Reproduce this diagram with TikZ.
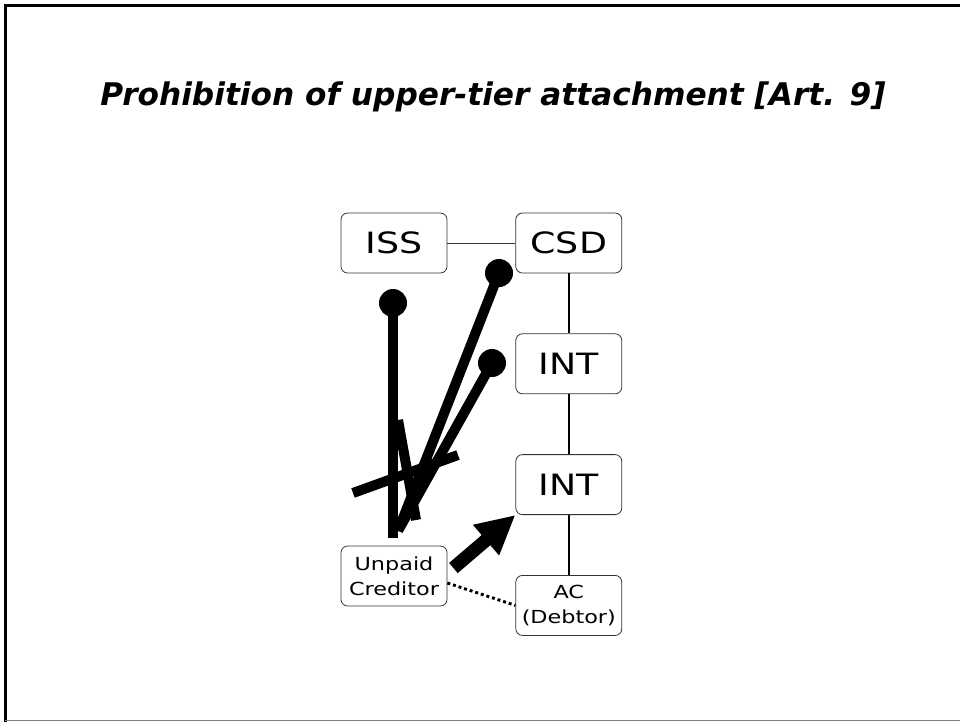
\documentclass[tikz,border=0pt]{standalone}
\usepackage{fontspec}
\setmainfont{DejaVu Sans}
\newfontfamily\boxfont[FakeStretch=1.24]{DejaVu Sans}
\usetikzlibrary{arrows.meta,positioning,calc}
\definecolor{rim}{gray}{0.5}
\definecolor{boxline}{gray}{0.2}

\tikzset{
  party/.style={draw=boxline,line width=0.6pt,rounded corners=5pt,minimum width=79.5pt,minimum height=45pt,font=\boxfont\fontsize{22}{26}\selectfont},
  smallparty/.style={party,align=center,font=\boxfont\fontsize{13.5}{18.75}\selectfont},
  claim/.style={line width=7.5pt},
}

\begin{document}
\begin{tikzpicture}[x=0.75pt,y=-0.75pt,node distance=45pt and 51pt]
\useasboundingbox (0,0) rectangle (960,722);
% slide frame
\draw[line width=2pt] (5.3,722) -- (5.3,5.3) -- (960,5.3);
\draw[draw=rim,line width=1pt] (5,720.5) -- (960,720.5);
\node[anchor=base,font=\fontsize{23.4}{28}\selectfont\bfseries\itshape] (title) at (493,105) {Prohibition of upper-tier attachment [Art. 9]};

% chain of intermediaries
\node[party] (iss) at (394,243) {ISS};
\node[party,right=of iss] (csd) {CSD};
\node[party,below=of csd] (int1) {INT};
\node[party,below=of int1] (int2) {INT};
\node[smallparty,below=of int2] (ac) {AC\\(Debtor)};
\node[smallparty] (uc) at (394,576) {Unpaid\\Creditor};

\draw[draw=boxline,line width=0.6pt] (iss) -- (csd);
\draw[line width=1.2pt] (csd) -- (int1) (int1) -- (int2) (int2) -- (ac);

% attachments at the upper tiers, crossed out
\coordinate (dotiss) at (393,303);
\coordinate (dotcsd) at (499,273);
\coordinate (dotint) at (492,363);
\draw[claim] (dotiss) -- (393,538);
\draw[claim] (dotcsd) -- (398,531);
\draw[claim] (dotint) -- (399,529);
\fill (dotiss) circle[radius=10.5pt];
\fill (dotcsd) circle[radius=10.5pt];
\fill (dotint) circle[radius=10.5pt];
\draw[claim] (398,420) -- (416,520);
\draw[claim] (353,493) -- (458,455);

% permitted attachment at the debtor's intermediary
\draw[line width=10pt,-{Triangle[length=29pt,width=28pt]}] ($(uc.east)+(6,-8)$) -- (int2.south west);
\draw[line width=2.2pt,dash pattern=on 2.2pt off 2.2pt] ($(uc.east)+(0,7)$) -- (ac.west);
\end{tikzpicture}
\end{document}
